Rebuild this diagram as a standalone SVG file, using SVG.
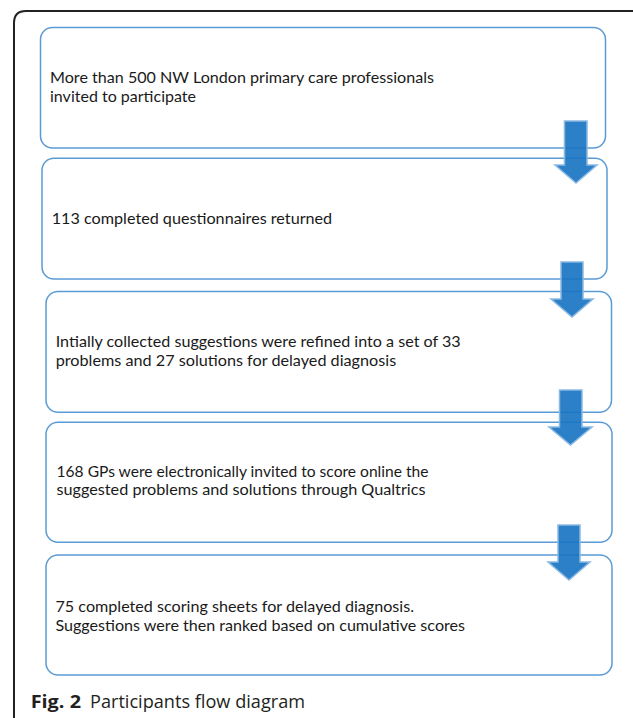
<svg xmlns="http://www.w3.org/2000/svg" width="633" height="718" viewBox="0 0 633 718">
<style>
.box{fill:#ffffff;stroke:#5b9bd5;stroke-width:1.5}
.t{font-family:Lato,"Open Sans","Liberation Sans",sans-serif;font-size:16px;fill:#1a1a1a}
.arr{fill:#1a75c2;fill-opacity:0.92;stroke:#8ab8e3;stroke-width:1.5;stroke-linejoin:miter}
.cap{font-family:"Open Sans","Liberation Sans",sans-serif;font-size:18px;fill:#231f20}
</style>
<rect width="633" height="718" fill="#ffffff"/>
<path d="M14 718 V23 Q14 11 26 11 H640" fill="none" stroke="#222222" stroke-width="2"/>
<g id="node1">
<rect class="box" x="40.5" y="27.5" width="565" height="120.5" rx="12"/>
<text class="t" x="50" y="83.3" textLength="384" lengthAdjust="spacingAndGlyphs">More than 500 NW London primary care professionals</text>
<text class="t" x="50" y="102.3" textLength="146" lengthAdjust="spacingAndGlyphs">invited to participate</text>
</g>
<g id="node2">
<rect class="box" x="42" y="158.3" width="565" height="120.7" rx="12"/>
<text class="t" x="51.7" y="224.3" textLength="280.5" lengthAdjust="spacingAndGlyphs">113 completed questionnaires returned</text>
</g>
<g id="node3">
<rect class="box" x="46" y="291.5" width="565.5" height="120.7" rx="12"/>
<text class="t" x="55.7" y="346.7" textLength="405" lengthAdjust="spacingAndGlyphs">Intially collected suggestions were refined into a set of 33</text>
<text class="t" x="55.7" y="365.7" textLength="340.5" lengthAdjust="spacingAndGlyphs">problems and 27 solutions for delayed diagnosis</text>
</g>
<g id="node4">
<rect class="box" x="46" y="422.3" width="566" height="120" rx="12"/>
<text class="t" x="56.5" y="476.7" textLength="372" lengthAdjust="spacingAndGlyphs">168 GPs were electronically invited to score online the</text>
<text class="t" x="56.5" y="495.3" textLength="369" lengthAdjust="spacingAndGlyphs">suggested problems and solutions through Qualtrics</text>
</g>
<g id="node5">
<rect class="box" x="46" y="555" width="566" height="120" rx="12"/>
<text class="t" x="55.5" y="611.7" textLength="358.5" lengthAdjust="spacingAndGlyphs">75 completed scoring sheets for delayed diagnosis.</text>
<text class="t" x="55.5" y="630.7" textLength="409.5" lengthAdjust="spacingAndGlyphs">Suggestions were then ranked based on cumulative scores</text>
</g>
<g id="connectors">
<polygon class="arr" points="564.5,121 587,121 587,165 597,165 576,183 555,165 564.5,165"/>
<polygon class="arr" points="561,262 583,262 583,299 593,299 572,317 551,299 561,299"/>
<polygon class="arr" points="559.5,390 582,390 582,427 592,427 570.5,445 549,427 559.5,427"/>
<polygon class="arr" points="558,525 580,525 580,562 590,562 569,580 548,562 558,562"/>
</g>
<g id="caption">
<text class="cap" x="30.7" y="707.7" font-weight="bold" textLength="50.3" lengthAdjust="spacingAndGlyphs">Fig. 2</text>
<text class="cap" x="90" y="707.7" textLength="215" lengthAdjust="spacingAndGlyphs">Participants flow diagram</text>
</g>
</svg>
